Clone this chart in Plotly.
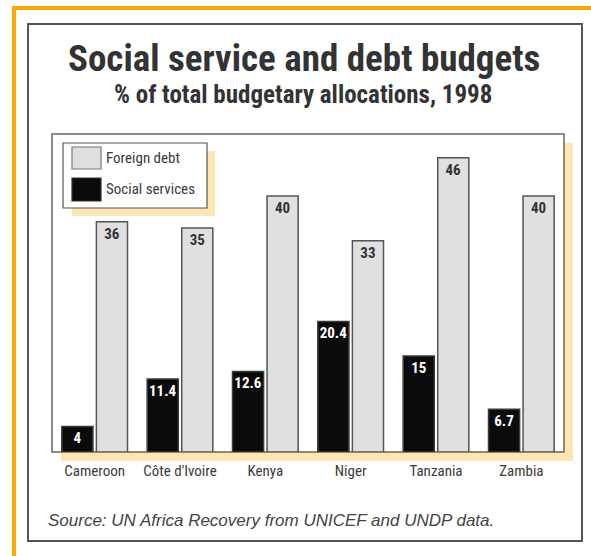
import plotly.graph_objects as go

# ---------------- data ----------------
countries = ["Cameroon", "Côte d'Ivoire", "Kenya", "Niger", "Tanzania", "Zambia"]
social_services = [4, 11.4, 12.6, 20.4, 15, 6.7]
foreign_debt = [36, 35, 40, 33, 46, 40]
series_names = ["Foreign debt", "Social services"]
title_text = "Social service and debt budgets"
subtitle_text = "% of total budgetary allocations, 1998"
source_text = "Source: UN Africa Recovery from UNICEF and UNDP data."

# ---------------- layout geometry (pixels) ----------------
W, H = 591, 556
L, R, T, B = 52, 564, 134, 452
NARROW = "Roboto Condensed, Open Sans Condensed, Roboto, sans-serif"
SHADOW = "#FDE6B2"
ORANGE = "#FDAA00"
DARK_FILL = "#0B0B0B"
LIGHT_FILL = "#E0E0E0"


def px(x):
    return (x - L) / (R - L)


def py(y):
    return (B - y) / (B - T)


def rect(x0, y0, x1, y1, fill=None, line=None, lw=0, layer="below"):
    return dict(type="rect", xref="paper", yref="paper",
                x0=px(x0), x1=px(x1), y0=py(y1), y1=py(y0),
                fillcolor=fill if fill else "rgba(0,0,0,0)",
                line=dict(color=line if line else "rgba(0,0,0,0)", width=lw),
                layer=layer)


fig = go.Figure()
fig.add_trace(go.Bar(
    x=countries, y=social_services, name=series_names[1],
    marker=dict(color=DARK_FILL, line=dict(color="#3a3a3a", width=1.5)),
    text=[f"{v:g}" for v in social_services], textposition="inside",
    insidetextanchor="end", constraintext="none", textangle=0,
    textfont=dict(family=NARROW, size=15, color="white", weight="bold"),
))
fig.add_trace(go.Bar(
    x=countries, y=foreign_debt, name=series_names[0],
    marker=dict(color=LIGHT_FILL, line=dict(color="#555555", width=1.5)),
    text=[f"{v:g}" for v in foreign_debt], textposition="inside",
    insidetextanchor="end", constraintext="none", textangle=0,
    textfont=dict(family=NARROW, size=15, color="#333333", weight="bold"),
))

shapes = [
    # plot-area shadow and box
    rect(61, 143, 573, 461, fill=SHADOW),
    rect(52, 134, 564, 452, fill="white", line="#666666", lw=1.5),
    # legend shadow and box
    rect(72, 151, 215, 216, fill=SHADOW),
    rect(63, 143, 207, 208, fill="white", line="#555555", lw=1.2),
    rect(72, 147, 101, 169, fill=LIGHT_FILL, line="#777777", lw=1.2),
    rect(72, 178, 101, 201, fill=DARK_FILL, line="#333333", lw=1.2),
    # outer frame
    rect(28, 24, 582, 541, line="#555555", lw=2),
    # orange frame strips
    rect(12, 6, 591, 10, fill=ORANGE),
    rect(12, 6, 16, 556, fill=ORANGE),
]

annotations = [
    dict(text=f"<b>{title_text}</b>", x=px(304), y=py(58), xref="paper", yref="paper",
         xanchor="center", yanchor="middle", showarrow=False,
         font=dict(family=NARROW, size=37, color="#333333")),
    dict(text=f"<b>{subtitle_text}</b>", x=px(303), y=py(94), xref="paper", yref="paper",
         xanchor="center", yanchor="middle", showarrow=False,
         font=dict(family=NARROW, size=25, color="#333333")),
    dict(text=series_names[0], x=px(104), y=py(158), xref="paper", yref="paper",
         xanchor="left", yanchor="middle", showarrow=False,
         font=dict(family=NARROW, size=15, color="#3a3a3a")),
    dict(text=series_names[1], x=px(104), y=py(189), xref="paper", yref="paper",
         xanchor="left", yanchor="middle", showarrow=False,
         font=dict(family=NARROW, size=15, color="#3a3a3a")),
    dict(text=f"<i>{source_text}</i>", x=px(46), y=py(520), xref="paper", yref="paper",
         xanchor="left", yanchor="middle", showarrow=False,
         font=dict(family="Liberation Sans, Arial, sans-serif", size=17, color="#444444")),
]

fig.update_layout(
    width=W, height=H,
    margin=dict(l=L, r=W - R, t=T, b=H - B, pad=0),
    paper_bgcolor="white", plot_bgcolor="rgba(0,0,0,0)",
    barmode="group", bargap=0.19, bargroupgap=0.1,
    showlegend=False,
    shapes=shapes, annotations=annotations,
    xaxis=dict(showgrid=False, zeroline=False, showline=False, ticks="",
               tickfont=dict(family=NARROW, size=15, color="#3a3a3a"),
               ticklabelstandoff=8, fixedrange=True),
    yaxis=dict(range=[0, 49.7], visible=False, fixedrange=True),
)

fig.write_html("out.html", config={"displayModeBar": False})
